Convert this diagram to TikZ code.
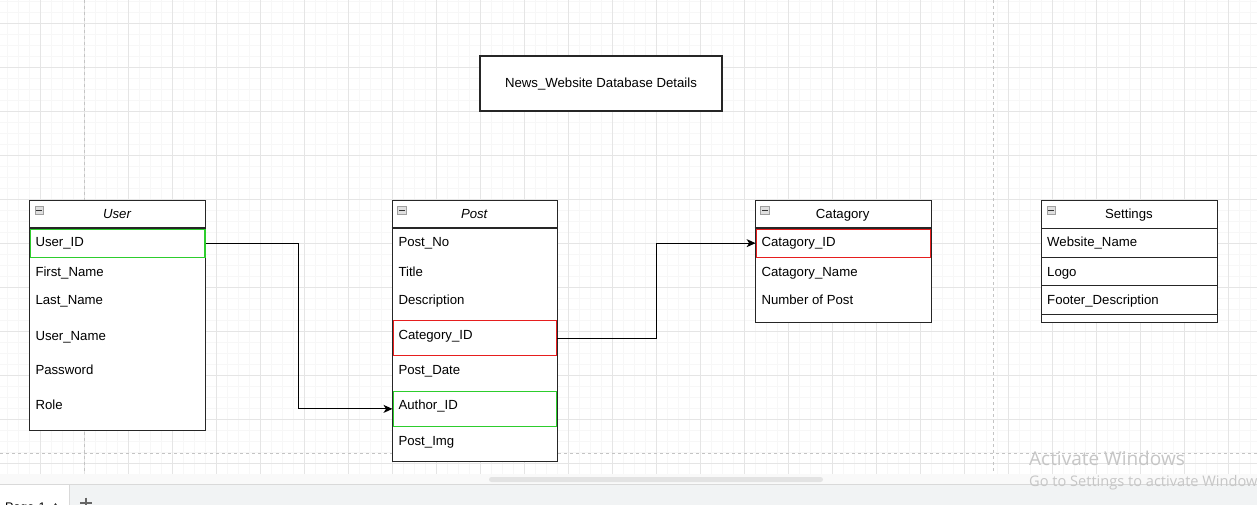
\documentclass[tikz,border=0pt]{standalone}
\usepackage{fontspec}
\setmainfont{Liberation Sans}
\newfontfamily\winfont{Open Sans}
\usetikzlibrary{arrows.meta,positioning,calc}

\definecolor{keygreen}{RGB}{45,205,45}
\definecolor{keyred}{RGB}{230,30,30}
\definecolor{gridminor}{RGB}{247,247,247}
\definecolor{gridmajor}{RGB}{229,229,229}
\definecolor{pageline}{RGB}{196,196,196}
\definecolor{bandfill}{RGB}{249,249,249}
\definecolor{barfill}{RGB}{241,243,244}
\definecolor{watermark}{RGB}{198,198,198}

\tikzset{
  tablebox/.style={draw=black!85, line width=1.1pt, fill=white, anchor=north west, inner sep=0pt},
  tableline/.style={draw=black!85, line width=1.1pt},
  keyrow/.style={draw=#1, line width=1.1pt, anchor=north west, inner sep=0pt},
  fieldtext/.style={anchor=west, inner sep=0pt, text height=9.5pt, text depth=0.5pt},
  headtext/.style={inner sep=0pt, text height=9.5pt, text depth=0.5pt},
  minusbox/.style={draw=gray!75, fill=gray!25, line width=0.8pt, anchor=north west,
                   inner sep=0pt, minimum size=8.5pt,
                   path picture={\draw[black!80, line width=1.4pt]
                     ([xshift=1.5pt]path picture bounding box.west) --
                     ([xshift=-1.5pt]path picture bounding box.east);}},
  link/.style={line width=1.1pt, -{Stealth[length=9pt,width=8pt,inset=2.5pt]}}
}

\begin{document}
\begin{tikzpicture}[x=1pt, y=-1pt, every node/.style={font=\fontsize{13.2}{16}\selectfont}]
  % Define dimensions
  \def\W{1257}
  \def\H{505}
  \def\gridbottom{473.5}
  \useasboundingbox (0,0) rectangle (\W,\H);
  \fill[white] (0,0) rectangle (\W,\gridbottom);

  % Draw grid
  \foreach \i in {0,...,115}
    \draw[gridminor, line width=1pt] (-3.5+11*\i,0) -- (-3.5+11*\i,\gridbottom);
  \foreach \j in {0,...,42}
    \draw[gridminor, line width=1pt] (0,1.5+11*\j) -- (\W,1.5+11*\j);
  \foreach \i in {-1,...,28}
    \draw[gridmajor, line width=1pt] (40.5+44*\i,0) -- (40.5+44*\i,\gridbottom);
  \foreach \j in {0,...,10}
    \draw[gridmajor, line width=1pt] (0,23.5+44*\j) -- (\W,23.5+44*\j);

  % Draw page borders
  \draw[pageline, line width=1pt, dash pattern=on 3pt off 3pt] (84.5,0) -- (84.5,\gridbottom);
  \draw[pageline, line width=1pt, dash pattern=on 3pt off 3pt] (993.5,0) -- (993.5,\gridbottom);
  \draw[pageline, line width=1pt, dash pattern=on 3pt off 3pt] (0,453.5) -- (\W,453.5);

  % Bottom bar
  \fill[bandfill] (0,\gridbottom) rectangle (\W,484);
  \fill[barfill] (0,484) rectangle (\W,\H);
  \fill[white] (0,484) rectangle (69,\H);
  \draw[gray!30] (0,484) -- (\W,484);
  \draw[gray!30] (69,484) -- (69,\H);
  \fill[gray!22, rounded corners=2.5pt] (489,477) rectangle (823,482);
  \node[anchor=base west, inner sep=0pt, font=\fontsize{12.5}{14}\selectfont] (page-tab) at (5,511) {Page-1};
  \fill[black!80] (52,508) -- (55.5,503) -- (59,508) -- cycle;
  \draw[black!60, line width=1.2pt] (80,503) -- (92,503);
  \draw[black!60, line width=1.2pt] (86,497.7) -- (86,\H);

  % Title
  \node[tablebox, anchor=center, minimum width=242pt, minimum height=55pt,
        text height=9.5pt, text depth=0.5pt] (title) at (601,83.5) {News\_Website Database Details};

  % Tables
  \node[tablebox, minimum width=176pt, minimum height=230.3pt] (user) at (29,199.7) {};
  \node[tablebox, minimum width=165pt, minimum height=261pt] (post) at (391.7,199.7) {};
  \node[tablebox, minimum width=176pt, minimum height=122.6pt] (cat) at (754.7,199.7) {};
  \node[tablebox, minimum width=175.7pt, minimum height=122.6pt] (set) at (1041,199.7) {};
  \draw[tableline] (29,228) -- (205,228);
  \draw[tableline] (391.7,228) -- (556.7,228);
  \draw[tableline] (754.7,228) -- (930.7,228);

  % Headers
  \foreach \t in {user, post, cat, set}
    \node[minusbox, below right=6pt and 5.5pt of \t.north west] (\t-min) {};
  \node[headtext] (user-head) at (117,213.9) {\itshape User};
  \node[headtext] (post-head) at (474.2,213.9) {\itshape Post};
  \node[headtext] (cat-head) at (842.7,213.9) {Catagory};
  \node[headtext] (set-head) at (1128.9,213.9) {Settings};

  % Key rows
  \node[keyrow=keygreen, minimum width=174.5pt, minimum height=28.2pt] (user-key) at (29.9,228.5) {};
  \node[keyrow=keyred, minimum width=163.5pt, minimum height=35pt] (post-catkey) at (392.5,320.3) {};
  \node[keyrow=keygreen, minimum width=163.5pt, minimum height=35.3pt] (post-authkey) at (392.5,390.7) {};
  \node[keyrow=keyred, minimum width=174.5pt, minimum height=28.2pt] (cat-key) at (755.6,228.5) {};
  \foreach \k/\top in {0/228, 1/256.7, 2/285.3}
    \node[keyrow=black!85, minimum width=175.7pt, minimum height=28.5pt] (set-row\k) at (1041,\top) {};

  % Fields
  \foreach \name/\y/\txt in {user-id/242.3/User\_ID, user-first/271.7/First\_Name,
      user-last/300.3/Last\_Name, user-uname/335.7/User\_Name,
      user-pass/370.3/Password, user-role/405.3/Role}
    \node[fieldtext] (\name) at (35.3,\y) {\txt};
  \foreach \name/\y/\txt in {post-no/242.3/Post\_No, post-title/271.7/Title,
      post-desc/300.3/Description, post-cat/335.3/Category\_ID,
      post-date/370.3/Post\_Date, post-auth/405.3/Author\_ID, post-img/440.7/Post\_Img}
    \node[fieldtext] (\name) at (398.3,\y) {\txt};
  \foreach \name/\y/\txt in {cat-id/242.3/Catagory\_ID, cat-name/271.7/Catagory\_Name,
      cat-num/300.3/Number of Post}
    \node[fieldtext] (\name) at (761.3,\y) {\txt};
  \foreach \name/\y/\txt in {set-name/242.3/Website\_Name, set-logo/271.7/Logo,
      set-foot/300.3/Footer\_Description}
    \node[fieldtext] (\name) at (1047,\y) {\txt};

  % Links
  \draw[link] (user-key.east) -- ++(93,0) |- (post-authkey.west);
  \draw[link] (post-catkey.east) -- ++(99,0) |- (cat-key.west);

  % Watermark
  \node[anchor=base west, inner sep=0pt, text=watermark, font=\winfont\fontsize{19}{22}\selectfont]
    (wm-title) at (1029,465) {Activate Windows};
  \node[anchor=base west, inner sep=0pt, text=watermark, font=\winfont\fontsize{14.6}{17}\selectfont]
    (wm-sub) at (1029,486) {Go to Settings to activate Windows.};
\end{tikzpicture}
\end{document}
